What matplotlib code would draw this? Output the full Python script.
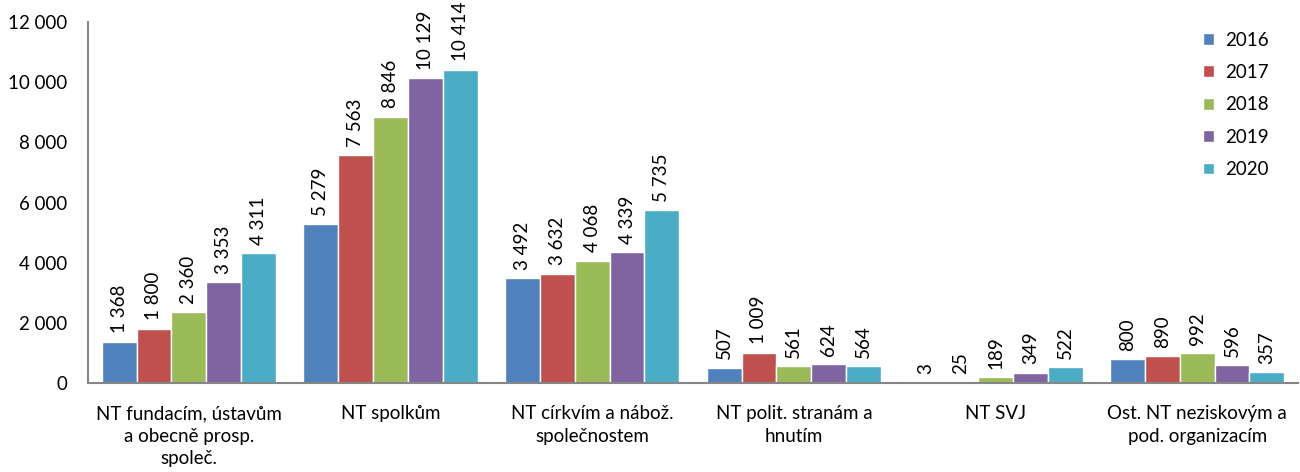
import matplotlib.pyplot as plt
import numpy as np

plt.rcParams['font.family'] = ['Lato', 'DejaVu Sans']

categories = ['NT fundacím, ústavům\na obecně prosp.\nspoleč.', 'NT spolkům',
              'NT církvím a nábož.\nspolečnostem', 'NT polit. stranám a\nhnutím',
              'NT SVJ', 'Ost. NT neziskovým a\npod. organizacím']
years = ['2016', '2017', '2018', '2019', '2020']
v2016 = [1368, 5279, 3492, 507, 3, 800]
v2017 = [1800, 7563, 3632, 1009, 25, 890]
v2018 = [2360, 8846, 4068, 561, 189, 992]
v2019 = [3353, 10129, 4339, 624, 349, 596]
v2020 = [4311, 10414, 5735, 564, 522, 357]
series = [v2016, v2017, v2018, v2019, v2020]
colors = ['#4F81BD', '#C0504D', '#9BBB59', '#8064A2', '#4BACC6']

def fmt(v):
    return f"{v:,}".replace(",", " ")

fig = plt.figure(figsize=(13, 4.72), dpi=100)
ax = fig.add_axes([88/1300, 1 - 383/472, 1210/1300, (383 - 22)/472])

x = np.arange(len(categories))
w = 0.173
for i, (vals, c, yr) in enumerate(zip(series, colors, years)):
    pos = x + (i - 2) * w
    ax.bar(pos, vals, w, color=c, edgecolor='white', linewidth=1, label=yr)
    for p, v in zip(pos, vals):
        ax.text(p, v + 280, fmt(v), rotation=90, ha='center', va='bottom', fontsize=13.5)

ax.set_xlim(-0.5, 5.5)
ax.set_ylim(0, 12000)
ax.set_yticks(range(0, 12001, 2000))
ax.set_yticklabels([fmt(t) for t in range(0, 12001, 2000)], fontsize=13.5)
ax.set_xticks(x)
ax.set_xticklabels(categories, fontsize=13.5, linespacing=1.4)
ax.tick_params(axis='x', length=0, pad=16)
ax.tick_params(axis='y', length=0, pad=15)
for s in ['top', 'right']:
    ax.spines[s].set_visible(False)
for s in ['left', 'bottom']:
    ax.spines[s].set_color('#868686')
    ax.spines[s].set_linewidth(1.5)

ax.legend(loc='upper right', bbox_to_anchor=(0.99, 1.02), frameon=False, fontsize=13.5,
          handlelength=0.6, handleheight=0.6, labelspacing=0.82, handletextpad=0.6)

fig.savefig('out.png', dpi=100)
